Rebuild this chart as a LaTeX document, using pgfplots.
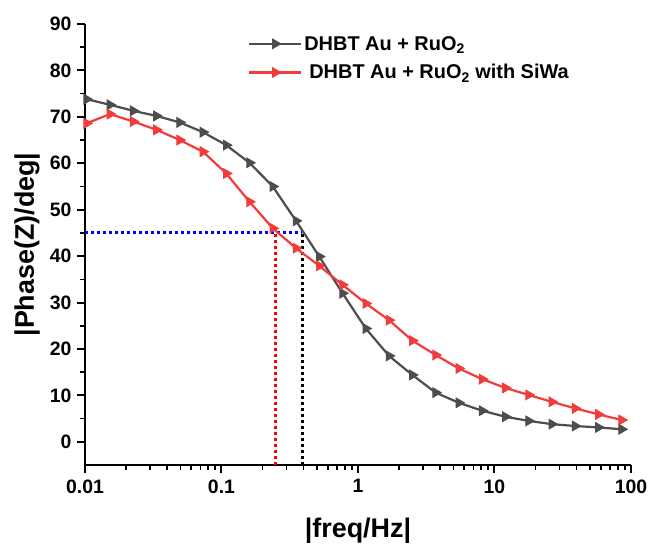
\documentclass[border=0pt]{standalone}
\usepackage{fontspec}
\setmainfont{Liberation Sans}
\usepackage{pgfplots}
\pgfplotsset{compat=1.18}
\definecolor{cblack}{HTML}{4D4D4D}
\definecolor{cred}{HTML}{F23B3B}
\begin{document}
\begin{tikzpicture}
\useasboundingbox (-85bp,-83bp) rectangle (567bp,465bp);
\begin{axis}[
 at={(0,0)}, anchor=south west,
 scale only axis, width=546bp, height=441bp,
 xmode=log, xmin=0.01, xmax=100, ymin=-5, ymax=90,
 axis x line*=bottom, axis y line*=left,
 axis line style={line width=2.6bp, -, black},
 xtick={0.01,0.1,1,10,100}, xticklabels={0.01,0.1,1,10,100},
 ytick={0,10,...,90},
 minor ytick={5,15,...,85},
 tick align=outside,
 major tick length=8bp, minor tick length=4.5bp,
 major tick style={black, line width=2bp},
 minor tick style={black, line width=1.6bp},
 tick label style={font=\bfseries\fontsize{19.5}{21}\selectfont},
 xticklabel style={yshift=-3bp},
 yticklabel style={xshift=-2bp},
 /pgf/number format/assume math mode=true,
 xlabel={|freq/Hz|}, ylabel={|Phase(Z)/deg|},
 label style={font=\bfseries\fontsize{27}{30}\selectfont},
 xlabel style={at={(axis description cs:0.5,-0.150)}, anchor=center},
 ylabel style={at={(axis description cs:-0.106,0.5)}, anchor=center},
 legend style={draw=none, fill=none, at={(0.293,0.982)}, anchor=north west,
   font=\bfseries\fontsize{20}{22}\selectfont, row sep=9bp},
 legend cell align=left,
 legend image code/.code={\draw[mark repeat=2,mark phase=2] plot coordinates {(0bp,0bp) (26bp,0bp) (52bp,0bp)};},
]
\addplot[blue, line width=3bp, dash pattern=on 3bp off 3bp, forget plot] coordinates {(0.01,45) (0.389,45)};
\addplot[red, line width=3bp, dash pattern=on 3bp off 3bp, forget plot] coordinates {(0.247,-5) (0.247,45)};
\addplot[black, line width=3bp, dash pattern=on 3bp off 3bp, forget plot] coordinates {(0.389,-5) (0.389,45)};
\addplot[cblack, line width=2.2bp, mark=triangle*, mark size=5.5bp, mark options={rotate=-90, fill=cblack, solid, line width=1bp}] coordinates {
(0.01029,73.8) (0.01524,72.6) (0.02256,71.3) (0.03340,70.2) (0.04944,68.8) (0.07320,66.7)
(0.1084,63.9) (0.1604,60.1) (0.2375,55.0) (0.3516,47.6) (0.5206,39.9) (0.7707,32.0)
(1.141,24.4) (1.689,18.5) (2.501,14.4) (3.702,10.6) (5.481,8.4) (8.115,6.7)
(12.01,5.4) (17.79,4.5) (26.33,3.8) (38.98,3.4) (57.71,3.1) (85.44,2.7)};
\addlegendentry{DHBT Au + RuO\textsubscript{2}}
\addplot[cred, line width=2.2bp, mark=triangle*, mark size=5.5bp, mark options={rotate=-90, fill=cred, solid, line width=1bp}] coordinates {
(0.01029,68.6) (0.01524,70.6) (0.02256,69.0) (0.03340,67.2) (0.04944,65.0) (0.07320,62.5)
(0.1084,57.8) (0.1604,51.7) (0.2375,46.0) (0.3516,41.7) (0.5206,37.9) (0.7707,33.8)
(1.141,29.8) (1.689,26.2) (2.501,21.8) (3.702,18.7) (5.481,15.8) (8.115,13.5)
(12.01,11.6) (17.79,10.1) (26.33,8.6) (38.98,7.2) (57.71,5.9) (85.44,4.7)};
\addlegendentry{\hspace{5bp}DHBT Au + RuO\textsubscript{2} with SiWa}
\end{axis}
\end{tikzpicture}
\end{document}
